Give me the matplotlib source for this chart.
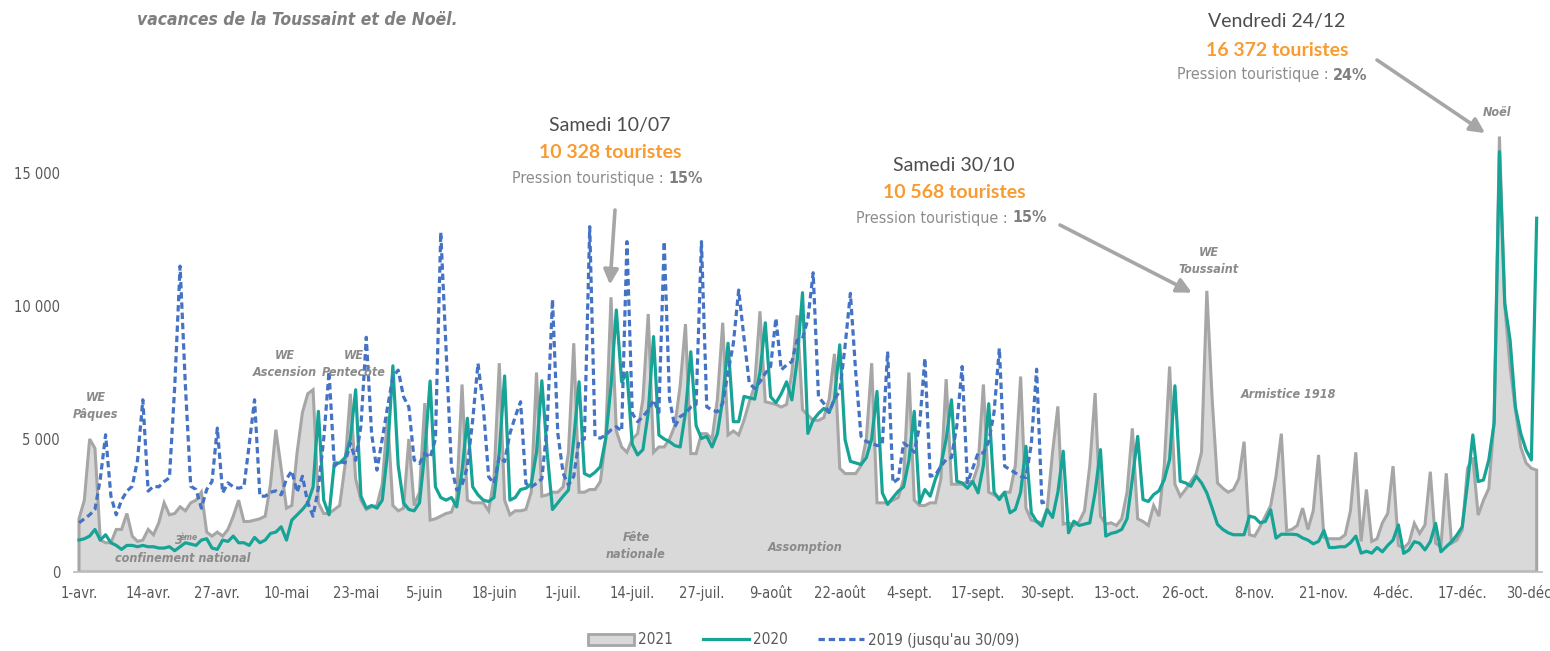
import matplotlib
matplotlib.use("Agg")
import matplotlib.pyplot as plt
import numpy as np
from matplotlib import font_manager
from matplotlib.patches import Patch
from matplotlib.lines import Line2D
from matplotlib.ticker import FuncFormatter

# day index 0 = 1 avril, one value per day
tick_labels = ["1-avr.", "14-avr.", "27-avr.", "10-mai", "23-mai", "5-juin", "18-juin",
               "1-juil.", "14-juil.", "27-juil.", "9-août", "22-août", "4-sept.", "17-sept.",
               "30-sept.", "13-oct.", "26-oct.", "8-nov.", "21-nov.", "4-déc.", "17-déc.", "30-déc"]

tourists_2021 = [
    2000, 2700, 5000, 4650, 1200, 1100, 1100,
    1600, 1600, 2200, 1350, 1150, 1200, 1600,
    1400, 1850, 2600, 2150, 2200, 2450, 2300,
    2600, 2700, 3000, 1500, 1350, 1500, 1350,
    1600, 2100, 2700, 1900, 1900, 1950, 2000,
    2100, 3300, 5350, 3900, 2400, 2500, 4500,
    6000, 6700, 6850, 2600, 2200, 2200, 2350,
    2500, 4000, 6700, 3500, 2700, 2350, 2450,
    2500, 3300, 5850, 2500, 2300, 2400, 5000,
    2500, 3000, 6350, 1950, 2000, 2100, 2200,
    2250, 2800, 7050, 2700, 2600, 2600, 2600,
    2300, 3500, 7850, 2700, 2150, 2300, 2300,
    2350, 3000, 7500, 2850, 2900, 3000, 3000,
    3200, 4500, 8600, 3000, 3000, 3100, 3100,
    3400, 5000, 10328, 5300, 4700, 4500, 5000,
    5200, 6500, 9700, 4500, 4700, 4700, 5000,
    5500, 7000, 9320, 4450, 4450, 5200, 5200,
    5000, 6500, 9370, 5150, 5300, 5150, 5700,
    6400, 7000, 9800, 6400, 6350, 6300, 6200,
    6300, 7500, 9650, 6100, 5900, 5700, 5700,
    5800, 6500, 8200, 3900, 3700, 3700, 3700,
    4000, 5000, 7850, 2600, 2600, 2600, 2700,
    2800, 3500, 7500, 2700, 2500, 2500, 2600,
    2600, 3500, 7250, 3300, 3300, 3300, 3400,
    3400, 4000, 7050, 3000, 2900, 2800, 3000,
    3000, 4000, 7350, 2400, 1950, 1900, 1850,
    2400, 4500, 6225, 1800, 1850, 1750, 1900,
    2300, 4000, 6725, 2100, 1800, 1850, 1750,
    2000, 3000, 5400, 2000, 1900, 1750, 2500,
    2100, 4000, 7725, 3300, 2850, 3100, 3400,
    3700, 4500, 10568, 6500, 3350, 3150, 3000,
    3100, 3500, 4900, 1400, 1350, 1700, 2100,
    2500, 3600, 5200, 1550, 1600, 1750, 2400,
    1600, 2300, 4400, 1300, 1250, 1250, 1250,
    1400, 2300, 4500, 1150, 3100, 1150, 1250,
    1850, 2200, 3980, 1000, 900, 1100, 1830,
    1450, 1770, 3770, 1080, 950, 3710, 1080,
    1200, 1580, 3900, 4300, 2140, 2700, 3140,
    5700, 16372, 10000, 7700, 6100, 4700, 4100,
    3900, 3830,
]

tourists_2020 = [
    1200, 1250, 1350, 1600, 1200, 1400, 1100,
    1000, 850, 1000, 1000, 950, 1000, 950,
    950, 900, 900, 950, 800, 950, 1100,
    1050, 1000, 1200, 1250, 900, 850, 1200,
    1150, 1350, 1100, 1100, 1000, 1300, 1100,
    1200, 1450, 1500, 1700, 1200, 1950, 2150,
    2350, 2600, 3200, 6040, 2700, 2150, 4100,
    4100, 4300, 5000, 6850, 2850, 2400, 2500,
    2400, 2700, 4500, 7750, 4000, 2600, 2350,
    2300, 2600, 4500, 7180, 3200, 2800, 2700,
    2800, 2450, 3800, 5780, 3200, 2900, 2700,
    2650, 2800, 4500, 7370, 2700, 2800, 3100,
    3150, 3300, 4500, 7190, 4500, 2350, 2600,
    2850, 3080, 5000, 7150, 3700, 3600, 3750,
    3960, 5000, 7000, 9850, 7150, 7500, 4800,
    4400, 4600, 6000, 8850, 5150, 5000, 4900,
    4750, 4700, 6000, 8280, 5500, 5020, 5100,
    4700, 5200, 6500, 8600, 5650, 5650, 6600,
    6550, 6500, 7500, 9370, 6590, 6360, 6700,
    7150, 6470, 8000, 10500, 5210, 5710, 5960,
    6150, 6000, 6500, 8540, 4975, 4160, 4100,
    4040, 4300, 5000, 6790, 2975, 2540, 2800,
    3040, 3200, 4200, 6040, 2600, 3100, 2850,
    3500, 4000, 5000, 6475, 3410, 3350, 3150,
    3400, 2975, 4000, 6325, 3000, 2725, 3000,
    2225, 2350, 3000, 4725, 2225, 1900, 1725,
    2350, 2050, 3000, 4540, 1475, 1910, 1750,
    1800, 1850, 3000, 4600, 1350, 1450, 1500,
    1600, 2000, 3500, 5100, 2725, 2650, 2910,
    3050, 3475, 4225, 7000, 3410, 3350, 3225,
    3600, 3350, 2975, 2400, 1790, 1600, 1475,
    1400, 1400, 1400, 2100, 2050, 1850, 1900,
    2340, 1275, 1420, 1420, 1420, 1400, 1280,
    1200, 1060, 1150, 1560, 920, 920, 950,
    950, 1100, 1350, 710, 780, 710, 920,
    760, 1000, 1200, 1770, 700, 830, 1140,
    1080, 830, 1140, 1830, 760, 950, 1140,
    1390, 1700, 3330, 5150, 3400, 3460, 4210,
    5590, 15800, 10100, 8720, 6200, 5210, 4590,
    4210, 13300,
]

# 2019 only up to 30/09
tourists_2019 = [
    1850, 2000, 2150, 2350, 3500, 5160, 2850,
    2150, 2700, 3040, 3225, 4200, 6475, 3040,
    3225, 3200, 3400, 3540, 7000, 11500, 7000,
    3225, 3100, 2400, 3100, 3400, 5410, 2975,
    3350, 3200, 3150, 3200, 4800, 6475, 2850,
    2850, 3000, 3050, 2900, 3500, 3800, 3000,
    3600, 2600, 2100, 3160, 5000, 7540, 3975,
    4160, 4100, 4850, 4200, 5500, 8825, 5200,
    3830, 5000, 6200, 7340, 7590, 6590, 6200,
    4210, 4080, 4460, 4300, 5000, 12770, 8345,
    3960, 3080, 3270, 3960, 5710, 7840, 6210,
    3580, 3330, 4330, 4150, 5210, 5840, 6400,
    3330, 3200, 3330, 3500, 5500, 10250, 5210,
    3710, 3270, 3600, 4960, 5000, 12980, 5090,
    5030, 5150, 5340, 5460, 5300, 12420, 5960,
    5650, 5840, 6090, 6470, 6000, 12420, 6500,
    5460, 5840, 5960, 6200, 6300, 12420, 6210,
    6090, 6020, 6340, 7500, 8600, 10600, 8800,
    7090, 6900, 7150, 7470, 7720, 9540, 7600,
    7780, 7910, 8720, 8780, 9500, 11250, 6590,
    6340, 6000, 6500, 6800, 8500, 10475, 7500,
    5100, 4900, 4850, 4750, 4800, 8290, 3350,
    3500, 4850, 4700, 4500, 5500, 8040, 3600,
    3650, 3975, 4225, 4300, 5500, 7725, 3350,
    3900, 4475, 4475, 4900, 6000, 8410, 3975,
    3850, 3725, 3600, 3550, 4800, 7625, 2600,
    2650,
]

GREY_FILL = "#d9d9d9"
GREY_LINE = "#a6a6a6"
TEAL = "#17a497"
BLUE = "#4472c4"
ORANGE = "#f89c32"
TXT = "#595959"

# pick a narrow face if one is installed, the reference uses a condensed font
names = {f.name for f in font_manager.fontManager.ttflist}
narrow_faces = [f for f in font_manager.fontManager.ttflist
                if "condensed" in str(f.stretch) or "Narrow" in f.name or "Condensed" in f.name]
NARROW_STRETCH = "normal"
if "Liberation Sans Narrow" in names:
    NARROW_FAM = "Liberation Sans Narrow"
elif narrow_faces:
    NARROW_FAM = narrow_faces[0].name
    NARROW_STRETCH = "condensed"
else:
    NARROW_FAM = "Liberation Sans"
NARROW = [NARROW_FAM, "DejaVu Sans"]
plt.rcParams["font.stretch"] = NARROW_STRETCH

W, H = 1550, 651
fig = plt.figure(figsize=(W / 100, H / 100), dpi=100)
ax = fig.add_axes([74 / W, (H - 572) / H, (1542 - 74) / W, (572 - 106.5) / H])

x21 = np.arange(len(tourists_2021))
x20 = np.arange(len(tourists_2020))
x19 = np.arange(len(tourists_2019))

ax.fill(np.r_[x21[0], x21, x21[-1]], np.r_[0, tourists_2021, 0],
        facecolor=GREY_FILL, edgecolor=GREY_LINE, lw=2.2, zorder=1)
ax.plot(x20, tourists_2020, color=TEAL, lw=2.3, zorder=2)
ax.plot(x19, tourists_2019, color=BLUE, lw=2.3, dashes=(2.0, 1.2), zorder=3)

ax.set_xlim(-0.94, 275)
ax.set_ylim(0, 17500)
ticks = list(np.arange(0, 274, 13).astype(float))
ticks[-1] -= 0.5  # keep the last label inside the canvas
ax.set_xticks(ticks)
ax.set_xticklabels(tick_labels)
ax.set_yticks([0, 5000, 10000, 15000])
ax.yaxis.set_major_formatter(FuncFormatter(lambda v, p: f"{int(v):,}".replace(",", " ")))
ax.tick_params(length=0, labelsize=10.5, colors=TXT)
ax.tick_params(axis="x", pad=10)
ax.tick_params(axis="y", pad=10)
for lab in ax.get_xticklabels() + ax.get_yticklabels():
    lab.set_family(NARROW)
for s in ["top", "right", "left"]:
    ax.spines[s].set_visible(False)
ax.spines["bottom"].set_color("#bfbfbf")
ax.spines["bottom"].set_linewidth(1.3)


def px(x, y):
    return x / W, 1 - y / H


# header line (cut off)
fig.text(*px(137, 20), "vacances de la Toussaint et de Noël.", fontsize=12.5, style="italic",
         weight="bold", color="#7f7f7f", va="center", family=NARROW)

# callouts
callouts = [
    (610, 125, "Samedi 10/07", "10 328 touristes", "15%", 668),
    (954, 165, "Samedi 30/10", "10 568 touristes", "15%", 1012),
    (1277, 22, "Vendredi 24/12", "16 372 touristes", "24%", 1333),
]
for cx, cy, day, nb, pct, split in callouts:
    fig.text(*px(cx, cy), day, fontsize=14, color="#4d4d4d", ha="center", va="center",
             family="Lato", stretch="normal")
    fig.text(*px(cx, cy + 28), nb, fontsize=14, color=ORANGE, ha="center", va="center",
             family="Lato", weight="bold", stretch="normal")
    fig.text(*px(split, cy + 53), "Pression touristique : ", fontsize=11.5, color="#8c8c8c",
             ha="right", va="center", family=NARROW)
    fig.text(*px(split, cy + 53), pct, fontsize=11.5, color="#7f7f7f", ha="left",
             va="center", family=NARROW, weight="bold")

arrow = dict(arrowstyle="-|>", color=GREY_LINE, lw=2.6, mutation_scale=22, shrinkA=0, shrinkB=0)
ax.annotate("", xy=(99.8, 10800), xytext=px(615, 210), textcoords="figure fraction",
            arrowprops=arrow, annotation_clip=False)
ax.annotate("", xy=(209.2, 10500), xytext=px(1060, 225), textcoords="figure fraction",
            arrowprops=arrow, annotation_clip=False)
ax.annotate("", xy=(264.3, 16500), xytext=px(1377, 60), textcoords="figure fraction",
            arrowprops=arrow, annotation_clip=False)

# event labels
small = dict(fontsize=9, style="italic", weight="bold", color="#8a8a8a",
             ha="center", va="center", family=NARROW)
events = [
    (96, 406, "WE\nPâques"),
    (285, 364, "WE\nAscension"),
    (354, 364, "WE\nPentecôte"),
    (183, 558, "confinement national"),
    (636, 546, "Fête\nnationale"),
    (805, 547, "Assomption"),
    (1209, 261, "WE\nToussaint"),
    (1288, 394, "Armistice 1918"),
    (1497, 112, "Noël"),
]
for ex, ey, t in events:
    fig.text(*px(ex, ey), t, linespacing=1.4, **small)
fig.text(*px(179, 541), "3", **small)
fig.text(*px(189, 537), "ème", **{**small, "fontsize": 6})

handles = [Patch(facecolor=GREY_FILL, edgecolor=GREY_LINE, lw=2),
           Line2D([], [], color=TEAL, lw=2.3),
           Line2D([], [], color=BLUE, lw=2.3, dashes=(2.0, 1.2))]
leg = fig.legend(handles, ["2021", "2020", "2019 (jusqu'au 30/09)"], loc="center",
                 bbox_to_anchor=px(804, 640), ncol=3, frameon=False,
                 handlelength=3.0, handletextpad=0.25, columnspacing=2.0,
                 prop={"family": NARROW, "size": 11})
for t in leg.get_texts():
    t.set_color(TXT)

fig.savefig("out.png", dpi=100)
